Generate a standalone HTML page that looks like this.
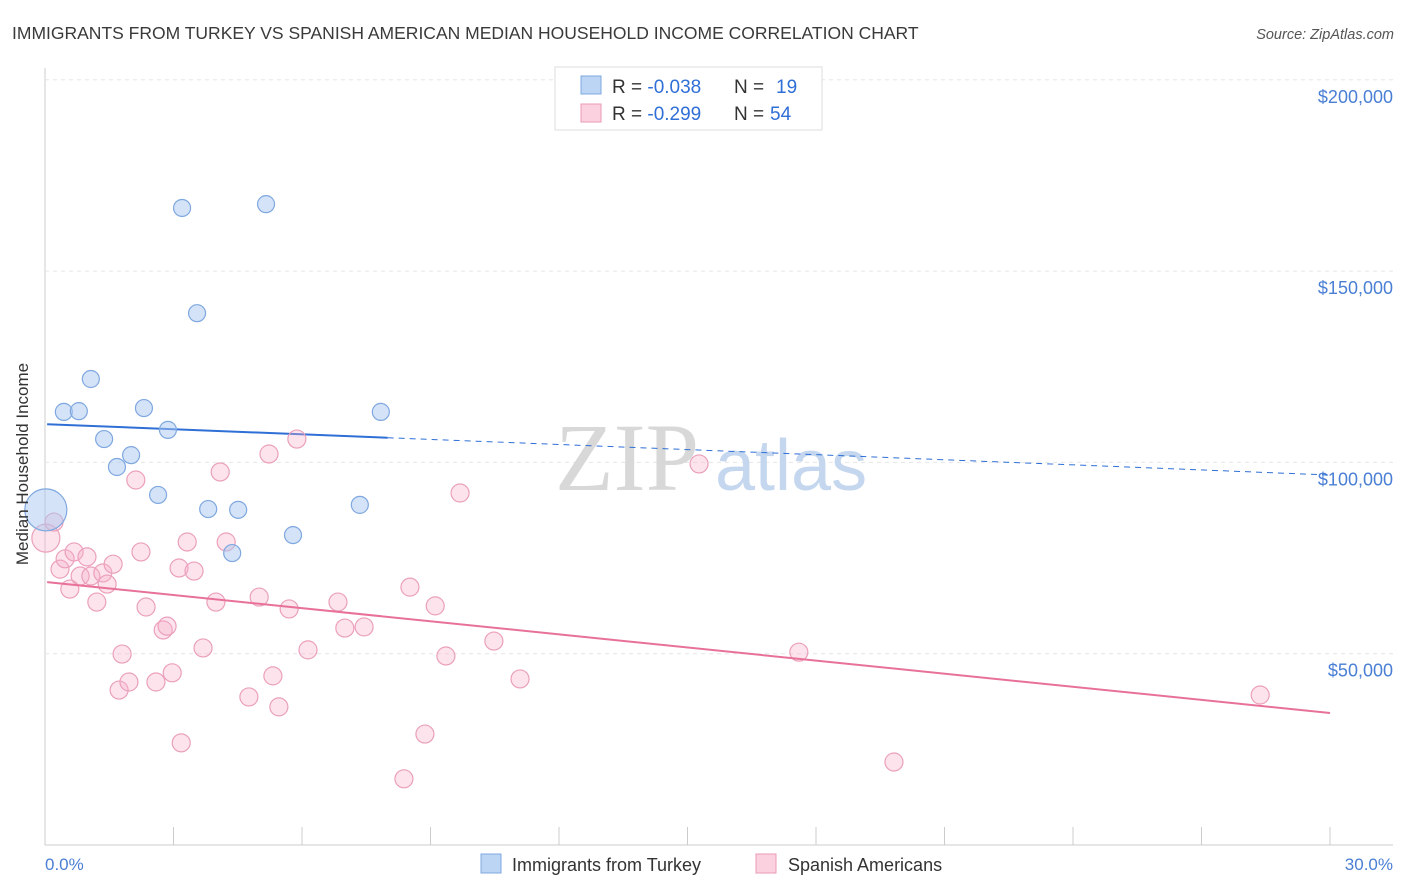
<!DOCTYPE html>
<html><head><meta charset="utf-8"><style>
body{margin:0;background:#fff;font-family:"Liberation Sans",sans-serif;}
#c{position:relative;width:1406px;height:892px;overflow:hidden;}
</style></head><body>
<div id="c">
<svg id="s" width="1406" height="892" xmlns="http://www.w3.org/2000/svg">
<text x="12" y="39" font-size="17.5" fill="#3a3a3a">IMMIGRANTS FROM TURKEY VS SPANISH AMERICAN MEDIAN HOUSEHOLD INCOME CORRELATION CHART</text>
<text x="1394" y="39" font-size="14.5" fill="#555" font-style="italic" text-anchor="end">Source: ZipAtlas.com</text>
<g id="grid"></g>
<text x="555" y="490" font-size="96" fill="#d8d8d8" font-family="Liberation Serif">ZIP</text>
<text x="715" y="490" font-size="72" fill="#c5d7ef">atlas</text>
<g id="marks"></g>
<text x="20" y="456" font-size="17" fill="#333" text-anchor="middle" transform="rotate(-90 28 456)">Median Household Income</text>
<text x="45" y="870" font-size="17" fill="#4a7fd4">0.0%</text>
<text x="1393" y="870" font-size="17" fill="#4a7fd4" text-anchor="end">30.0%</text>
<g>
<rect x="555" y="67" width="267" height="63" fill="#fff" stroke="#ddd"/>
<rect x="581" y="76" width="20" height="18" fill="#bcd5f5" stroke="#7fa8e0"/>
<rect x="581" y="104" width="20" height="18" fill="#fbd0df" stroke="#e89ab5"/>
<text x="612" y="93" font-size="19" fill="#333">R = <tspan fill="#2f6fd6">-0.038</tspan><tspan x="734">N = </tspan><tspan fill="#2f6fd6" x="776">19</tspan></text>
<text x="612" y="120" font-size="19" fill="#333">R = <tspan fill="#2f6fd6">-0.299</tspan><tspan x="734">N = </tspan><tspan fill="#2f6fd6" x="770">54</tspan></text>
</g>
<g>
<rect x="481" y="854" width="20" height="19" fill="#bcd5f5" stroke="#7fa8e0"/>
<text x="512" y="871" font-size="18" fill="#333">Immigrants from Turkey</text>
<rect x="756" y="854" width="20" height="19" fill="#fbd0df" stroke="#e89ab5"/>
<text x="788" y="871" font-size="18" fill="#333">Spanish Americans</text>
</g>
</svg></div>
<script>
const yTicks=[50000,100000,150000,200000];
const yTickLabels=["$50,000","$100,000","$150,000","$200,000"];
const xTicks=[0,3,6,9,12,15,18,21,24,27,30];
const blueX=[0.02,0.44,0.79,1.07,1.38,1.68,2.01,2.31,2.64,2.87,3.20,3.55,3.81,4.51,4.37,5.16,5.79,7.35,7.84];
const blueY=[87.6,113.2,113.4,121.8,106.1,98.8,101.9,114.2,91.5,108.5,166.5,139.0,87.8,87.6,76.3,167.5,81.0,88.9,113.2];
const pinkX=[0.02,0.21,0.35,0.47,0.58,0.68,0.82,0.98,1.07,1.21,1.35,1.45,1.59,1.73,1.80,1.96,2.12,2.24,2.36,2.59,2.76,2.85,2.97,3.13,3.18,3.32,3.48,3.69,3.99,4.09,4.23,4.76,5.00,5.23,5.32,5.46,5.70,5.88,6.14,6.84,7.00,7.45,8.38,8.52,8.87,9.11,9.36,9.69,10.48,11.09,15.27,17.60,19.82,28.37];
const pinkY=[80.2,84.4,72.1,74.8,66.9,76.6,70.3,75.3,70.3,63.5,71.1,68.2,73.4,40.5,49.9,42.6,95.4,76.6,62.2,42.6,56.2,57.2,45.0,72.4,26.7,79.2,71.6,51.5,63.5,97.5,79.2,38.7,64.8,102.2,44.2,36.1,61.7,106.1,51.0,63.5,56.7,57.0,17.3,67.4,29.0,62.5,49.4,92.0,53.3,43.4,99.6,50.4,21.7,39.2];
const blueTrend=[110.0,96.7];
const pinkTrend=[68.7,34.5];
const NS="http://www.w3.org/2000/svg";
const X=p=>45+p*(1285/30);
const Y=k=>845-k*1000*(191.3/50000);
function mk(t,a,parent){const e=document.createElementNS(NS,t);for(const k in a)e.setAttribute(k,a[k]);parent.appendChild(e);return e;}
const g=document.getElementById('grid'),m=document.getElementById('marks');
let ax=mk('line',{x1:45,y1:68,x2:45,y2:845,stroke:'#ccc'},g);


let bx=mk('line',{x1:45,y1:845,x2:1393,y2:845,stroke:'#ccc'},g);


yTicks.forEach((v,i)=>{
 const y=Y(v/1000);
 const l=mk('line',{x1:45,y1:y,x2:1393,y2:y,stroke:'#e6e6e6','stroke-dasharray':'4,4'},g);
 
 
 const t=mk('text',{x:1393,y:y+23,'font-size':18,fill:'#4a7fd4','text-anchor':'end'},g);
 t.textContent=yTickLabels[i];
 
 
});
xTicks.forEach(p=>{
 const l=mk('line',{x1:X(p),y1:827,x2:X(p),y2:845,stroke:'#ccc'},g);
 
 
});
// trend lines
const bx1=X(0.05),bx2=X(8),bxe=X(30);
const by=x=>blueTrend[0]+(blueTrend[1]-blueTrend[0])*(x/30);
let tl=mk('line',{x1:bx1,y1:Y(by(0.05)),x2:bx2,y2:Y(by(8)),stroke:'#2f6fd6','stroke-width':2},m);


let td=mk('line',{x1:bx2,y1:Y(by(8)),x2:bxe,y2:Y(by(30)),stroke:'#2f6fd6','stroke-width':1,'stroke-dasharray':'6,5'},m);


pinkX.forEach((x,i)=>{
 const r=i==0?14:9;
 const c=mk('circle',{cx:X(x),cy:Y(pinkY[i]),r:r,fill:'rgba(246,176,200,0.35)',stroke:'#eba0bb','stroke-width':1.2},m);
 
 
});
blueX.forEach((x,i)=>{
 const r=i==0?21:8.5;
 const c=mk('circle',{cx:X(x),cy:Y(blueY[i]),r:r,fill:'rgba(170,200,240,0.5)',stroke:'#7fa8e0','stroke-width':1.2},m);
 
 
});
let pl=mk('line',{x1:X(0.05),y1:Y(pinkTrend[0]),x2:X(30),y2:Y(pinkTrend[1]),stroke:'#e8719a','stroke-width':2},m);


</script>
</body></html>
